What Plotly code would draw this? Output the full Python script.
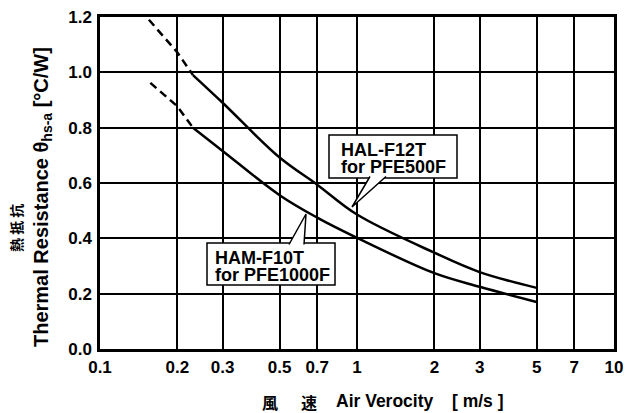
import plotly.graph_objects as go

# ---- data ----
hal_dash_x = [0.155, 0.2, 0.23]
hal_dash_y = [1.19, 1.072, 0.99]
hal_x = [0.23, 0.3, 0.5, 0.7, 1.0, 2.0, 3.0, 5.0]
hal_y = [0.99, 0.89, 0.692, 0.594, 0.486, 0.348, 0.278, 0.221]

ham_dash_x = [0.157, 0.2, 0.23]
ham_dash_y = [0.962, 0.877, 0.80]
ham_x = [0.23, 0.3, 0.5, 0.7, 1.0, 2.0, 3.0, 5.0]
ham_y = [0.80, 0.716, 0.556, 0.475, 0.402, 0.274, 0.225, 0.170]

x_tickvals = [0.1, 0.2, 0.3, 0.5, 0.7, 1, 2, 3, 5, 7, 10]
x_ticktext = ["0.1", "0.2", "0.3", "0.5", "0.7", "1", "2", "3", "5", "7", "10"]
y_tickvals = [0.0, 0.2, 0.4, 0.6, 0.8, 1.0, 1.2]

# ---- layout geometry (pixels) ----
W, H = 629, 413
L, R, T, B = 100, 614, 17, 349


def px(x):
    return (x - L) / (R - L)


def py(y):
    return (B - y) / (B - T)


LAT = "Liberation Sans, Arial, sans-serif"
CJK = "Noto Sans CJK JP, Liberation Sans, sans-serif"

fig = go.Figure()
line_style = dict(color="black", width=2.5, shape="spline")
for xs, ys in [(hal_dash_x, hal_dash_y), (ham_dash_x, ham_dash_y)]:
    fig.add_trace(go.Scatter(x=xs, y=ys, mode="lines",
                             line=dict(color="black", width=2.5, dash="8px,5px"),
                             showlegend=False, hoverinfo="skip"))
for xs, ys in [(hal_x, hal_y), (ham_x, ham_y)]:
    fig.add_trace(go.Scatter(x=xs, y=ys, mode="lines", line=line_style,
                             showlegend=False, hoverinfo="skip"))

shapes = []
annotations = []


def callout(box, base1, base2, tip, line1, line2, text_x, y1, y2):
    x0, y0, x1, y1b = box
    shapes.append(dict(type="rect", xref="paper", yref="paper",
                       x0=px(x0), x1=px(x1), y0=py(y0), y1=py(y1b),
                       fillcolor="white", line=dict(color="black", width=1.5),
                       layer="above"))
    path = "M {:.5f},{:.5f} L {:.5f},{:.5f} L {:.5f},{:.5f}".format(
        px(base1[0]), py(base1[1]), px(tip[0]), py(tip[1]), px(base2[0]), py(base2[1]))
    shapes.append(dict(type="path", xref="paper", yref="paper", path=path,
                       fillcolor="white", line=dict(color="black", width=1.5),
                       layer="above"))
    for txt, yy in [(line1, y1), (line2, y2)]:
        annotations.append(dict(text=txt, xref="paper", yref="paper",
                                x=px(text_x), y=py(yy), xanchor="left", yanchor="middle",
                                showarrow=False,
                                font=dict(family=LAT, size=18, color="black", weight="bold")))


callout((329, 135, 457, 178), (370, 176.5), (386, 176.5), (352, 207),
        "HAL-F12T", "for PFE500F", 339, 150, 167)
callout((207, 243, 335, 285), (289, 244.5), (304, 244.5), (306, 214),
        "HAM-F10T", "for PFE1000F", 213, 258, 275)

# axis titles
annotations += [
    dict(text="Thermal Resistance θ<sub>hs-a</sub> [°C/W]", xref="paper", yref="paper",
         x=px(42), y=py(197), textangle=-90, showarrow=False,
         xanchor="center", yanchor="middle",
         font=dict(family=LAT, size=20, color="black", weight="bold")),
    dict(text="熱 抵 抗", xref="paper", yref="paper",
         x=px(16), y=py(228), textangle=-90, showarrow=False,
         xanchor="center", yanchor="middle",
         font=dict(family=CJK, size=14, color="black", weight="bold")),
    dict(text="風", xref="paper", yref="paper", x=px(270), y=py(401.5),
         showarrow=False, xanchor="center", yanchor="middle",
         font=dict(family=CJK, size=16, color="black", weight="bold")),
    dict(text="速", xref="paper", yref="paper", x=px(309), y=py(401.5),
         showarrow=False, xanchor="center", yanchor="middle",
         font=dict(family=CJK, size=16, color="black", weight="bold")),
    dict(text="Air Verocity", xref="paper", yref="paper", x=px(334), y=py(401),
         showarrow=False, xanchor="left", yanchor="middle",
         font=dict(family=LAT, size=17.5, color="black", weight="bold")),
    dict(text="[ m/s ]", xref="paper", yref="paper", x=px(478), y=py(401),
         showarrow=False, xanchor="center", yanchor="middle",
         font=dict(family=LAT, size=17.5, color="black", weight="bold")),
]

tickfont = dict(family=LAT, size=17, color="black", weight="bold")
fig.update_layout(
    width=W, height=H,
    margin=dict(l=L, r=W - R, t=T, b=H - B, autoexpand=False),
    paper_bgcolor="white", plot_bgcolor="white",
    shapes=shapes, annotations=annotations,
    xaxis=dict(type="log", range=[-1, 1], tickvals=x_tickvals, ticktext=x_ticktext,
               showgrid=True, gridcolor="black", gridwidth=1.6,
               showline=True, mirror=True, linecolor="black", linewidth=2.5,
               ticks="", tickfont=tickfont, ticklabelstandoff=1, zeroline=False,
               fixedrange=True),
    yaxis=dict(range=[0, 1.2], tickvals=y_tickvals, tickformat=".1f",
               showgrid=True, gridcolor="black", gridwidth=1.6,
               showline=True, mirror=True, linecolor="black", linewidth=2.5,
               ticks="", tickfont=tickfont, ticklabelstandoff=2, zeroline=False,
               fixedrange=True),
)

fig.write_html("out.html", config={"displayModeBar": False},
               post_script="document.body.style.margin='0';document.body.style.overflow='hidden';")
